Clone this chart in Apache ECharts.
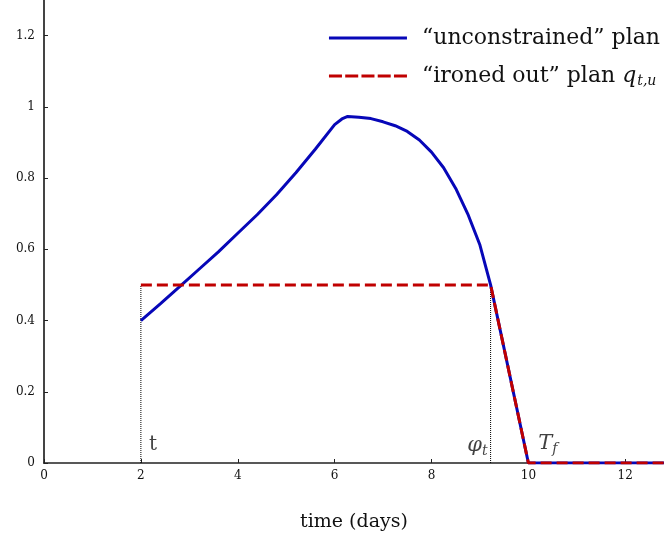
<!DOCTYPE html>
<html><head><meta charset="utf-8">
<script src="https://cdn.jsdelivr.net/npm/echarts@6/dist/echarts.min.js"></script>
<style>html,body{margin:0;padding:0;background:#fff}#c{width:664px;height:541px}</style>
</head><body><div id="c"></div>
<script>
const unconstrainedX = [2, 2.4, 2.8, 3.2, 3.6, 4.0, 4.4, 4.8, 5.2, 5.6, 6.0, 6.15, 6.27, 6.5, 6.75, 7.0, 7.25, 7.5, 7.75, 8.0, 8.25, 8.5, 8.75, 9.0, 9.22, 10.0, 12.8];
const unconstrainedY = [0.400, 0.447, 0.495, 0.544, 0.593, 0.645, 0.697, 0.753, 0.815, 0.881, 0.950, 0.966, 0.973, 0.971, 0.967, 0.958, 0.947, 0.931, 0.907, 0.873, 0.829, 0.771, 0.699, 0.612, 0.500, 0, 0];
const ironedX = [2, 9.22, 10.0, 12.8];
const ironedY = [0.5, 0.5, 0, 0];
const markerX = [2, 9.22];
const markerTop = 0.5;
const annotations = [
  {x: 2.25, y: 0.05, text: '{r|t}'},
  {x: 8.95, y: 0.05, text: '{i|φ}{s|t}'},
  {x: 10.4, y: 0.055, text: '{i|T}{s|f}'}
];
const xTicks = [0, 2, 4, 6, 8, 10, 12];
const yTicks = [0, 0.2, 0.4, 0.6, 0.8, 1, 1.2];

const serif = 'DejaVu Serif';
const chart = echarts.init(document.getElementById('c'));
const zip = (xs, ys) => xs.map((x, i) => [x, ys[i]]);
const markerSeries = markerX.map(x => ({
  type: 'line', data: [[x, 0], [x, markerTop]], symbol: 'none', silent: true,
  lineStyle: {color: '#000', width: 1, type: [1, 1]}, z: 1, legendHoverLink: false
}));
const solidIcon = 'path://M0,0h78v3h-78z';
const dashIcon = 'path://M0,0h13v3h-13z M16.25,0h13v3h-13z M32.5,0h13v3h-13z M48.75,0h13v3h-13z M65,0h13v3h-13z';
chart.setOption({
  animation: false,
  grid: {left: 44, right: 0, top: 0, bottom: 78, containLabel: false},
  legend: {
    orient: 'vertical', right: 4, top: 26, itemWidth: 78, itemHeight: 3, itemGap: 14, padding: 0,
    data: [{name: 'unc', icon: solidIcon}, {name: 'iron', icon: dashIcon}],
    formatter: n => n === 'unc' ? '“unconstrained” plan' : '“ironed out” plan {i|q}{s|t,u}',
    textStyle: {fontFamily: serif, fontSize: 22, lineHeight: 24, color: '#111', padding: [0, 0, 0, 10],
      rich: {i: {fontFamily: serif, fontStyle: 'italic', fontSize: 22, lineHeight: 24}, s: {fontFamily: serif, fontStyle: 'italic', fontSize: 14, lineHeight: 24, verticalAlign: 'bottom', padding: [8, 0, 0, 1]}}}
  },
  xAxis: {
    type: 'value', min: 0, max: 12.8, interval: 2,
    name: 'time (days)', nameLocation: 'middle', nameGap: 50,
    nameTextStyle: {fontFamily: serif, fontSize: 19, color: '#111'},
    axisLine: {show: true, lineStyle: {color: '#222', width: 1.5}},
    axisTick: {show: true, inside: true, length: 4, lineStyle: {color: '#222'}},
    axisLabel: {fontFamily: serif, fontSize: 12, color: '#111', margin: 7, showMaxLabel: false,
      formatter: v => xTicks.includes(v) ? String(v) : ''},
    splitLine: {show: false}
  },
  yAxis: {
    type: 'value', min: 0, max: 1.3, interval: 0.2,
    axisLine: {show: true, lineStyle: {color: '#444', width: 2}},
    axisTick: {show: true, inside: true, length: 4, lineStyle: {color: '#222'}},
    axisLabel: {fontFamily: serif, fontSize: 12, color: '#111', margin: 9, showMaxLabel: false,
      formatter: v => { const t = yTicks.find(k => Math.abs(k - v) < 1e-6); return t === undefined ? '' : String(t); }},
    splitLine: {show: false}
  },
  series: [
    ...markerSeries,
    {name: 'unc', type: 'line', data: zip(unconstrainedX, unconstrainedY), symbol: 'none', smooth: false,
      lineStyle: {color: '#0707b8', width: 3}, itemStyle: {color: '#0707b8'}, z: 3},
    {name: 'iron', type: 'line', data: zip(ironedX, ironedY), symbol: 'none',
      lineStyle: {color: '#c00000', width: 3, type: [11, 5]}, itemStyle: {color: '#c00000'}, z: 4},
    {type: 'scatter', symbolSize: 0, silent: true, z: 5,
      data: annotations.map(a => ({value: [a.x, a.y], label: {formatter: a.text}})),
      label: {show: true, position: 'inside', color: '#111', fontFamily: serif, fontSize: 20,
        rich: {r: {fontFamily: serif, fontSize: 20}, i: {fontFamily: serif, fontStyle: 'italic', fontSize: 21},
          s: {fontFamily: serif, fontStyle: 'italic', fontSize: 14, verticalAlign: 'bottom', padding: [12, 0, 0, 0]}}}}
  ]
});
</script></body></html>
